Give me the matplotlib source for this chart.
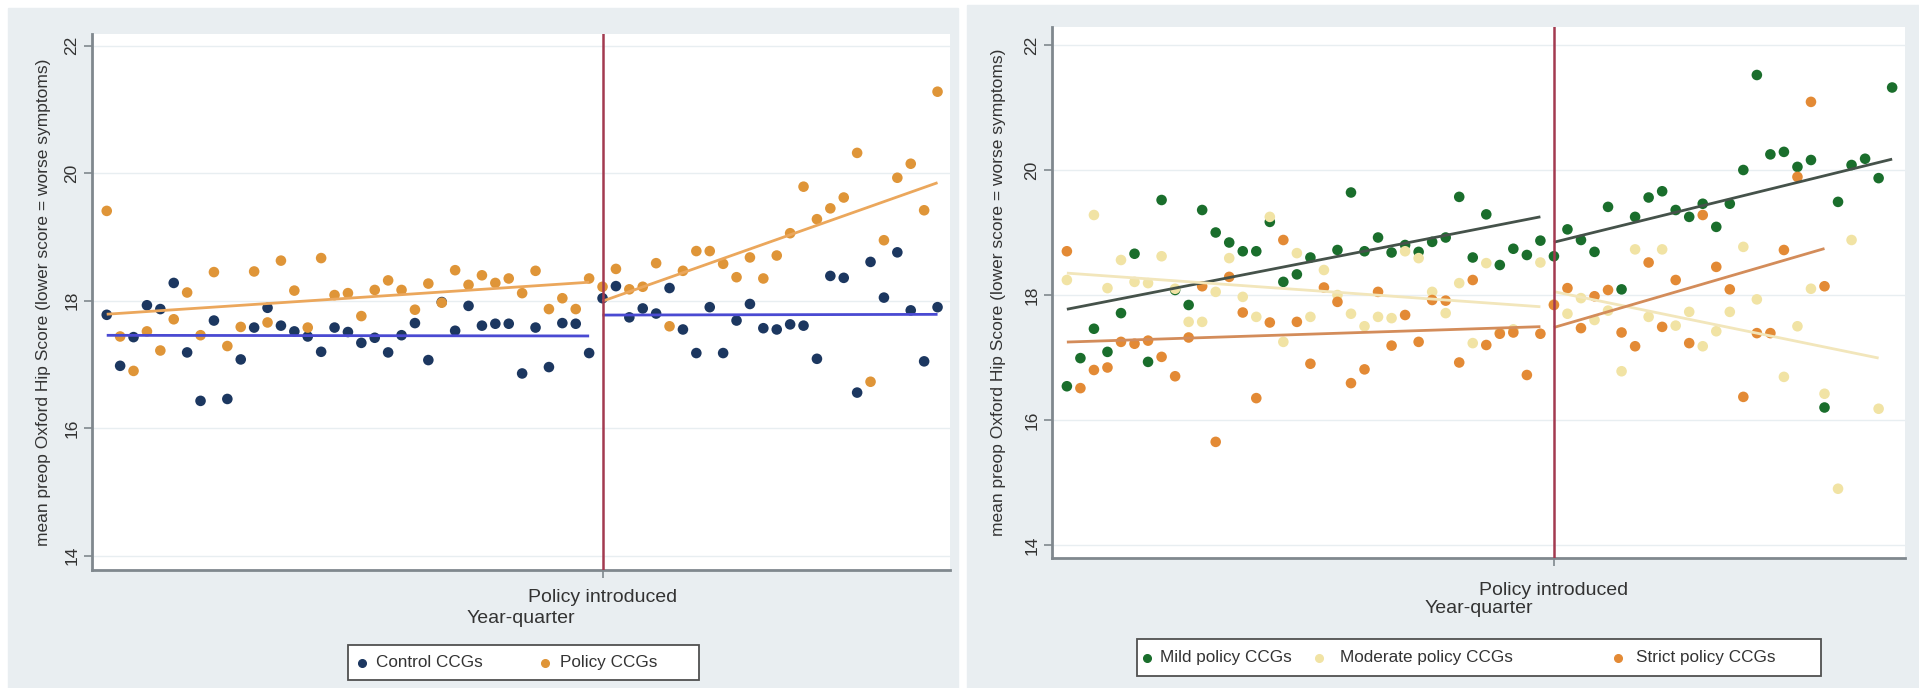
import numpy as np
import matplotlib.pyplot as plt
from matplotlib.lines import Line2D
from matplotlib.patches import Rectangle

plt.rcParams['font.family'] = ['Liberation Sans', 'DejaVu Sans']

# Left panel: quarterly mean preop OHS, control vs policy CCGs
control_ccgs = [
    17.78, 16.98, 17.43, 17.93, 17.87, 18.28, 17.19, 16.43, 17.69, 16.46,
    17.08, 17.58, 17.89, 17.61, 17.52, 17.44, 17.20, 17.58, 17.51, 17.34,
    17.42, 17.19, 17.46, 17.65, 17.07, 17.98, 17.53, 17.92, 17.61, 17.64,
    17.64, 16.86, 17.58, 16.96, 17.65, 17.64, 17.18, 18.04, 18.23, 17.74,
    17.88, 17.80, 18.20, 17.55, 17.18, 17.90, 17.18, 17.69, 17.95, 17.57,
    17.55, 17.63, 17.61, 17.09, 18.39, 18.36, 16.56, 18.61, 18.05, 18.76,
    17.85, 17.05, 17.90,
]
policy_ccgs = [
    19.41, 17.44, 16.90, 17.52, 17.22, 17.71, 18.13, 17.46, 18.45, 17.29,
    17.59, 18.46, 17.66, 18.63, 18.16, 17.58, 18.67, 18.09, 18.12, 17.76,
    18.17, 18.32, 18.17, 17.86, 18.27, 17.97, 18.48, 18.25, 18.40, 18.28,
    18.35, 18.12, 18.47, 17.87, 18.04, 17.87, 18.35, 18.22, 18.50, 18.18,
    18.22, 18.59, 17.60, 18.47, 18.78, 18.78, 18.58, 18.37, 18.68, 18.35,
    18.71, 19.06, 19.79, 19.28, 19.45, 19.62, 20.32, 16.73, 18.95, 19.93,
    20.15, 19.42, 21.28,
]
left_policy_quarter = 37

# Right panel: CCGs split by policy strictness
nan = np.nan
mild_ccgs = [
    16.54, 16.99, 17.46, 17.09, 17.71, 18.66, 16.93, 19.52, 18.08, 17.84,
    19.36, 19.00, 18.84, 18.70, 18.70, 19.17, 18.21, 18.33, 18.60, nan,
    18.72, 19.64, 18.70, 18.92, 18.68, 18.80, 18.69, 18.85, 18.92, 19.57,
    18.60, 19.29, 18.48, 18.74, 18.64, 18.87, 18.62, 19.05, 18.88, 18.69,
    19.41, 18.09, 19.25, 19.56, 19.66, 19.36, 19.25, 19.46, 19.09, 19.46,
    20.00, 21.52, 20.25, 20.29, 20.05, 20.16, 16.20, 19.49, 20.08, 20.18,
    19.87, 21.32,
]
moderate_ccgs = [
    18.24, nan, 19.28, 18.11, 18.56, 18.21, 18.19, 18.62, 18.10, 17.57,
    17.57, 18.05, 18.59, 17.97, 17.65, 19.25, 17.25, 18.67, 17.65, 18.40,
    18.00, 17.70, 17.50, 17.65, 17.63, 18.70, 18.59, 18.05, 17.71, 18.19,
    17.23, 18.51, 17.40, 17.45, nan, 18.52, 17.85, 17.70, 17.95, 17.60,
    17.75, 16.78, 18.73, 17.65, 18.73, 17.51, 17.73, 17.18, 17.42, 17.73,
    18.77, 17.93, nan, 16.69, 17.50, 18.10, 16.42, 14.90, 18.88, nan,
    16.18,
]
strict_ccgs = [
    18.70, 16.51, 16.80, 16.84, 17.25, 17.22, 17.27, 17.01, 16.70, 17.32,
    18.14, 15.65, 18.29, 17.72, 16.35, 17.56, 18.88, 17.57, 16.90, 18.12,
    17.89, 16.59, 16.81, 18.05, 17.19, 17.68, 17.25, 17.92, 17.91, 16.92,
    18.24, 17.20, 17.38, 17.40, 16.72, 17.38, 17.84, 18.11, 17.47, 17.98,
    18.08, 17.40, 17.18, 18.52, 17.49, 18.24, 17.23, 19.28, 18.45, 18.09,
    16.37, 17.39, 17.39, 18.72, 19.89, 21.09, 18.14,
]
right_policy_quarter = 36

y_ticks = [14, 16, 18, 20, 22]
y_title = 'mean preop Oxford Hip Score (lower score = worse symptoms)'

W, H = 1919, 688
panel_bg = '#e9eef1'
spine_col = '#80888e'
text_col = '#333333'
cut_col = '#a33a50'


def px_axes(fig, x0, y0, x1, y1, **kw):
    return fig.add_axes([x0 / W, 1 - y1 / H, (x1 - x0) / W, (y1 - y0) / H], **kw)


def fit_segment(ax, values, lo, hi, color):
    y = np.asarray(values, float)
    x = np.arange(len(y))
    m = (x >= lo) & (x <= hi) & ~np.isnan(y)
    slope, icpt = np.polyfit(x[m], y[m], 1)
    xs = np.array([x[m].min(), x[m].max()])
    ax.plot(xs, icpt + slope * xs, color=color, lw=2, zorder=4, solid_capstyle='butt')


def dots(ax, values, color, z=3):
    y = np.asarray(values, float)
    ax.scatter(np.arange(len(y)), y, s=58, color=color, edgecolors='none', zorder=z)


def style(ax, xlim, ylim, cut, tick_pad, xlab_y, ylab_pad):
    ax.set_facecolor('white')
    ax.set_xlim(*xlim)
    ax.set_ylim(*ylim)
    for g in y_ticks:
        ax.axhline(g, color='#e8eef1', lw=1, zorder=0)
    ax.axvline(cut, color=cut_col, lw=1.8, zorder=5)
    ax.set_yticks(y_ticks)
    ax.set_yticklabels([str(t) for t in y_ticks], rotation=90, va='center')
    ax.set_xticks([cut])
    ax.set_xticklabels(['Policy introduced'])
    ax.tick_params(axis='both', colors=spine_col, labelcolor=text_col, length=6, width=1.2)
    ax.tick_params(axis='x', labelsize=14, pad=tick_pad)
    ax.tick_params(axis='y', labelsize=12.5, pad=3)
    for side in ('top', 'right'):
        ax.spines[side].set_visible(False)
    for side in ('left', 'bottom'):
        ax.spines[side].set_color(spine_col)
        ax.spines[side].set_linewidth(2)
    ax.set_xlabel('Year-quarter', fontsize=14, color=text_col)
    ax.xaxis.set_label_coords(0.5, xlab_y)
    ax.set_ylabel(y_title, fontsize=12.5, color=text_col, labelpad=ylab_pad)


def legend_box(fig, box, entries):
    # box = (left, top, right, bottom) in pixels; entries = (marker_x, text_x, colour, label)
    x0, y0, x1, y1 = box
    fig.patches.append(Rectangle((x0 / W, 1 - y1 / H), (x1 - x0) / W, (y1 - y0) / H,
                                 transform=fig.transFigure, facecolor='white',
                                 edgecolor='#505050', lw=1.3, zorder=2))
    cy = 1 - (y0 + y1) / 2 / H
    for mx, tx, col, label in entries:
        fig.add_artist(Line2D([mx / W], [cy], ls='none', marker='o', ms=5.5,
                              color=col, mec=col, transform=fig.transFigure, zorder=3))
        fig.text(tx / W, cy, label, fontsize=12.3, color=text_col, va='center', ha='left',
                 zorder=3)


fig = plt.figure(figsize=(W / 100, H / 100), dpi=100)

# panel backgrounds, kept underneath both plot axes
for x0, top, w in ((8, 8, 950), (967, 5, 952)):
    fig.patches.append(Rectangle((x0 / W, 0), w / W, (H - top) / H,
                                 transform=fig.transFigure, color=panel_bg, zorder=-10))

# left: control vs policy
navy = '#1c3760'
gold = '#df9538'
axl = px_axes(fig, 92, 34, 950, 570)
dots(axl, control_ccgs, navy)
dots(axl, policy_ccgs, gold)
n = len(control_ccgs)
fit_segment(axl, control_ccgs, 0, left_policy_quarter - 1, '#4a4ad2')
fit_segment(axl, control_ccgs, left_policy_quarter, n - 1, '#4a4ad2')
fit_segment(axl, policy_ccgs, 0, left_policy_quarter - 1, '#eba75c')
fit_segment(axl, policy_ccgs, left_policy_quarter, n - 1, '#eba75c')
style(axl, (-1.1, 62.93), (13.777, 22.185), left_policy_quarter, 8, -0.074, 10)
legend_box(fig, (348, 645, 699, 680),
           [(362, 376, navy, 'Control CCGs'), (545, 560, gold, 'Policy CCGs')])

# right: mild / moderate / strict
green = '#1a6e2c'
pale = '#f1e3a4'
orange = '#e38a35'
axr = px_axes(fig, 1052, 27, 1905, 558)
dots(axr, mild_ccgs, green)
dots(axr, moderate_ccgs, pale)
dots(axr, strict_ccgs, orange)
for vals, col in ((mild_ccgs, '#45524a'), (moderate_ccgs, '#f2e6bb'), (strict_ccgs, '#d38c5a')):
    last = len(vals) - 1
    fit_segment(axr, vals, 0, right_policy_quarter - 1, col)
    fit_segment(axr, vals, right_policy_quarter, last, col)
style(axr, (-1.1, 61.95), (13.792, 22.288), right_policy_quarter, 11, -0.080, 13)
legend_box(fig, (1137, 639, 1821, 676),
           [(1147, 1160, green, 'Mild policy CCGs'),
            (1319, 1340, pale, 'Moderate policy CCGs'),
            (1618, 1636, orange, 'Strict policy CCGs')])

fig.savefig('out.png', dpi=100, facecolor='white')
